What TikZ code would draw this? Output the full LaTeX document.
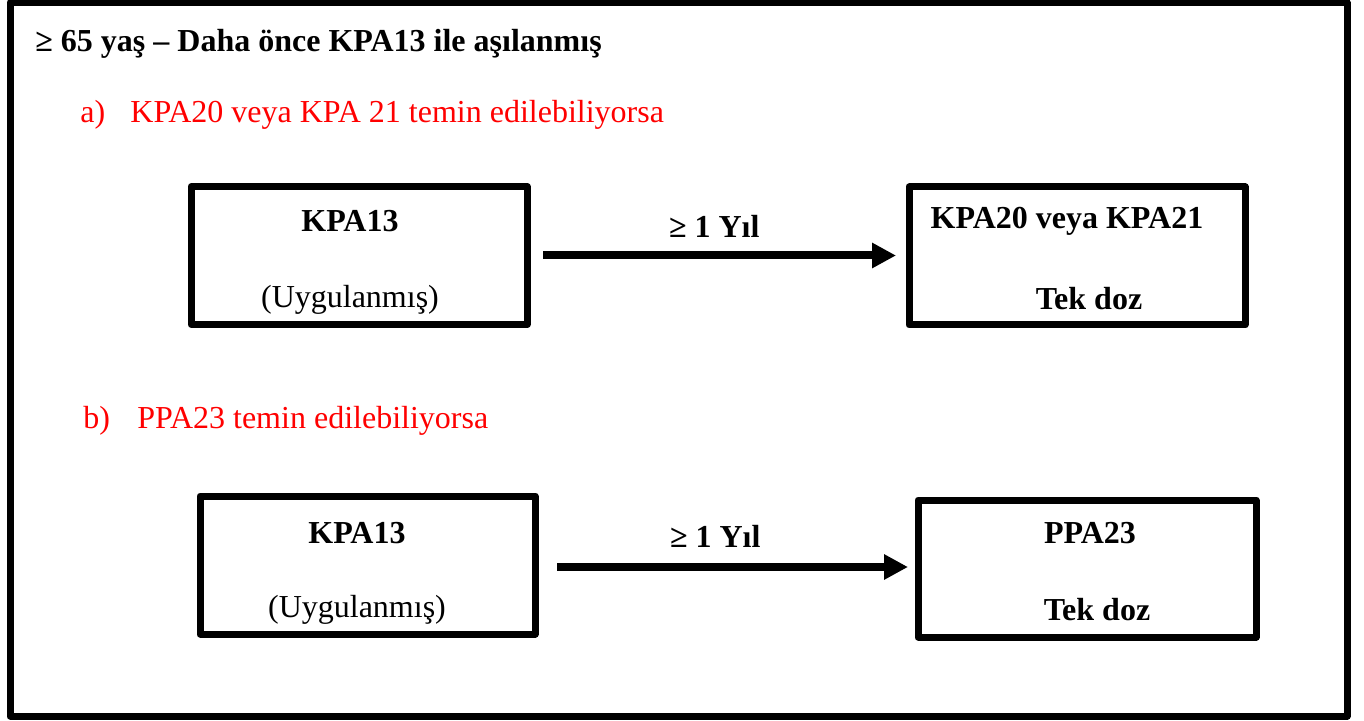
\documentclass[tikz,border=0pt]{standalone}
\usepackage{fontspec}
\setmainfont{Liberation Serif}
\usetikzlibrary{arrows.meta,positioning,calc}

\begin{document}
\begin{tikzpicture}[x=0.5pt, y=-0.5pt, >={Triangle[length=12pt,width=12pt]}, font=\fontsize{16pt}{19pt}\selectfont]
    \tikzstyle{box}=[draw=black, line width=3.5pt, line join=round, minimum width=168pt, minimum height=69pt, inner sep=0pt]
    \tikzstyle{txt}=[inner sep=0pt, text=black]
    \tikzstyle{bold}=[font=\fontsize{16pt}{19pt}\selectfont\bfseries]
    \tikzstyle{cond}=[inner sep=0pt, text=red, anchor=west]
    \tikzstyle{flow}=[->, line width=4pt]

    \useasboundingbox (0,0) rectangle (1364,721);
    \draw[line width=3.5pt, line join=round] (10,3) rectangle (1347,716); % frame

    \node[txt, bold, anchor=west] (title) at (35,44) {≥ 65 yaş – Daha önce KPA13 ile aşılanmış};

    % option a
    \node[cond] (a) at (80,115) {a)};
    \node[cond] (atxt) at (130,115) {KPA20 veya KPA 21 temin edilebiliyorsa};
    \node[box] (k13a) at (359,255.5) {};
    \node[box] (k2021) at (1077,256) {};
    \node[txt, bold] (k13a1) at (350,221) {KPA13};
    \node[txt] (k13a2) at (350,300) {(Uygulanmış)};
    \node[txt, bold] (k2021a) at (1067,221) {KPA20 veya KPA21};
    \node[txt, bold] (k2021b) at (1089,299) {Tek doz};

    % option b
    \node[cond] (b) at (83,421) {b)};
    \node[cond] (btxt) at (137,421) {PPA23 temin edilebiliyorsa};
    \node[box, minimum width=167.5pt] (k13b) at (367.5,565) {};
    \node[box, minimum width=169pt, minimum height=68.5pt] (ppa) at (1087,568.5) {};
    \node[txt, bold] (k13b1) at (357,533) {KPA13};
    \node[txt] (k13b2) at (357,610) {(Uygulanmış)};
    \node[txt, bold] (ppa1) at (1090,533) {PPA23};
    \node[txt, bold] (ppa2) at (1097,610) {Tek doz};

    % edges
    \draw[flow, shorten <=6.25pt, shorten >=4.75pt] (k13a.east) -- (k13a.east -| k2021.west)
        node[txt, bold, pos=0.49, above=7pt] (y1) {≥ 1 Yıl};
    \draw[flow, shorten <=9.25pt, shorten >=3.25pt] ($(k13b.east)+(0,2)$) -- ($(k13b.east -| ppa.west)+(0,2)$)
        node[txt, bold, pos=0.47, above=8pt] (y2) {≥ 1 Yıl};
\end{tikzpicture}
\end{document}
